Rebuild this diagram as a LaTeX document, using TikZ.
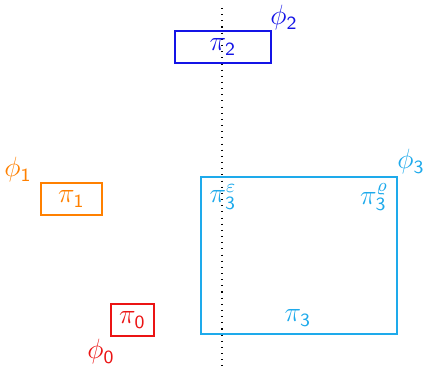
\documentclass[tikz,border=0pt]{standalone}
\usetikzlibrary{positioning}
\definecolor{cblue}{RGB}{20,20,230}
\definecolor{corange}{RGB}{255,128,0}
\definecolor{ccyan}{RGB}{30,170,235}
\definecolor{cred}{RGB}{235,20,20}
\tikzset{box/.style={draw, line width=0.95pt, inner sep=0pt},
  every node/.append style={font=\fontsize{11.5}{13}\selectfont}}
\begin{document}
\begin{tikzpicture}[x=0.43pt,y=-0.43pt]
\useasboundingbox (0,0) rectangle (425,369);
\draw[line width=0.45pt, dash pattern=on 0.45pt off 2.2pt] (222,8) coordinate (t) -- (222,369) coordinate (b);
% pi2
\node[box, cblue, minimum width=96*0.43pt, minimum height=32*0.43pt] (p2) at (223,47) {$\pi_{\mathsf{2}}$};
\node[cblue] (f2) at (284,18) {$\phi_{\mathsf{2}}$};
% pi1
\node[box, corange, minimum width=61*0.43pt, minimum height=32*0.43pt] (p1) at (71.5,199) {$\pi_{\mathsf{1}}$};
\node[corange] (f1) at (18,170) {$\phi_{\mathsf{1}}$};
% pi3
\node[box, ccyan, minimum width=196*0.43pt, minimum height=157*0.43pt] (p3) at (299,255.5) {};
\node[ccyan] (f3) at (411,162) {$\phi_{\mathsf{3}}$};
\node[ccyan] (p3e) at (223,197) {$\pi_{\mathsf{3}}^{\varepsilon}$};
\node[ccyan] (p3r) at (374,197) {$\pi_{\mathsf{3}}^{\varrho}$};
\node[ccyan] (p3b) at (298,318) {$\pi_{\mathsf{3}}$};
% pi0
\node[box, cred, minimum width=43*0.43pt, minimum height=32*0.43pt] (p0) at (132.5,320) {$\pi_{\mathsf{0}}$};
\node[cred] (f0) at (101,352) {$\phi_{\mathsf{0}}$};
\end{tikzpicture}
\end{document}
